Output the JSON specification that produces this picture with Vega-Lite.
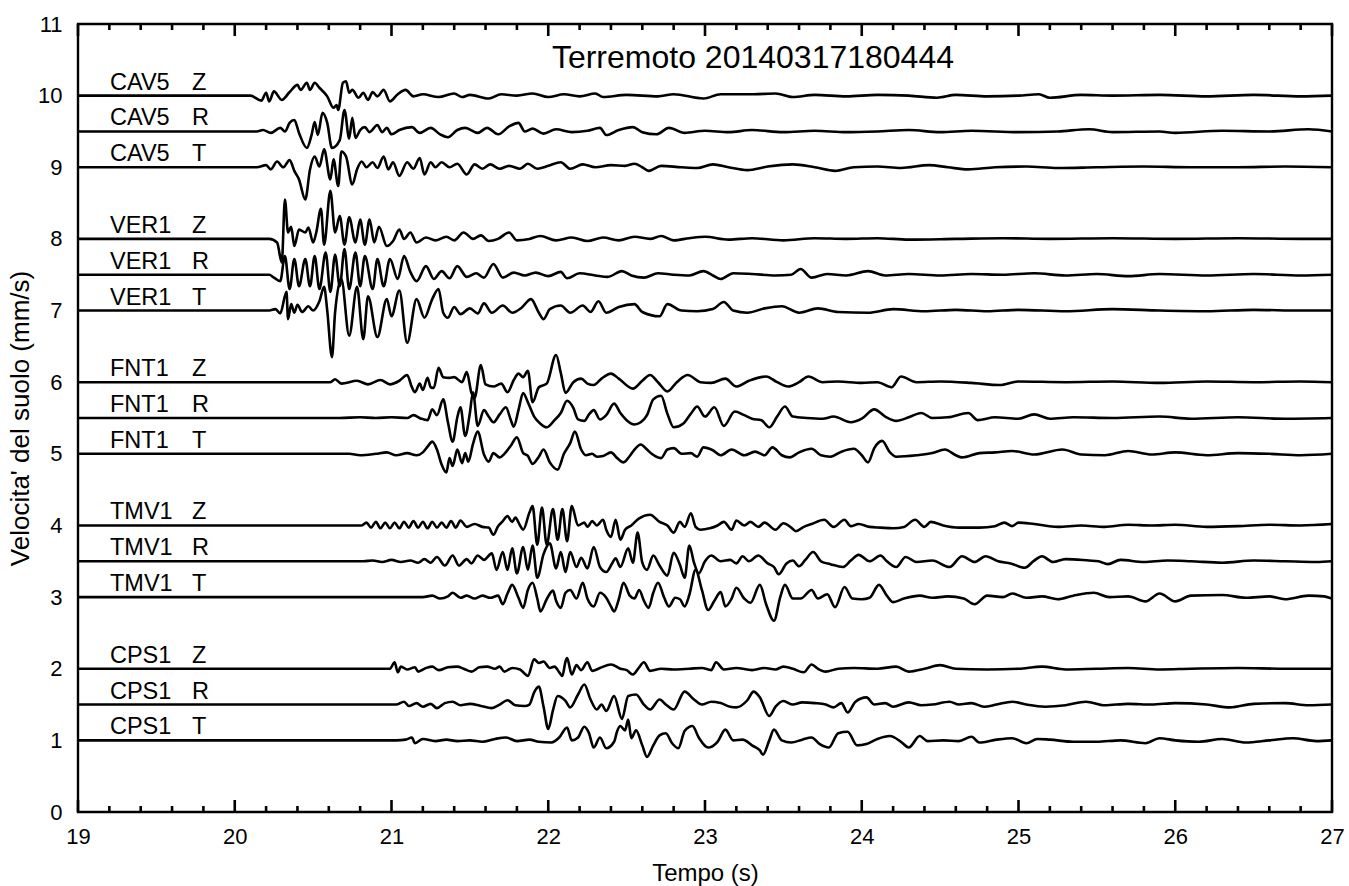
{
"$schema":"https://vega.github.io/schema/vega-lite/v6.json",
"width":1254,"height":788,
"autosize":{"type":"none"},
"padding":{"left":78,"top":24,"right":17,"bottom":74},
"background":"white",
"config":{"font":"Liberation Sans","view":{"stroke":"black","strokeWidth":2.4}},
"datasets":{
"major":[{"t":19},{"t":20},{"t":21},{"t":22},{"t":23},{"t":24},{"t":25},{"t":26},{"t":27}],
"minor":[{"t":19.2},{"t":19.4},{"t":19.6},{"t":19.8},{"t":20.2},{"t":20.4},{"t":20.6},{"t":20.8},{"t":21.2},{"t":21.4},{"t":21.6},{"t":21.8},{"t":22.2},{"t":22.4},{"t":22.6},{"t":22.8},{"t":23.2},{"t":23.4},{"t":23.6},{"t":23.8},{"t":24.2},{"t":24.4},{"t":24.6},{"t":24.8},{"t":25.2},{"t":25.4},{"t":25.6},{"t":25.8},{"t":26.2},{"t":26.4},{"t":26.6},{"t":26.8}],
"labs":[
{"k":"a","st":"CAV5","c":"Z","b":10},{"k":"b","st":"CAV5","c":"R","b":9.5},{"k":"c","st":"CAV5","c":"T","b":9},
{"k":"d","st":"VER1","c":"Z","b":8},{"k":"e","st":"VER1","c":"R","b":7.5},{"k":"f","st":"VER1","c":"T","b":7},
{"k":"g","st":"FNT1","c":"Z","b":6},{"k":"h","st":"FNT1","c":"R","b":5.5},{"k":"i","st":"FNT1","c":"T","b":5},
{"k":"j","st":"TMV1","c":"Z","b":4},{"k":"k","st":"TMV1","c":"R","b":3.5},{"k":"l","st":"TMV1","c":"T","b":3},
{"k":"m","st":"CPS1","c":"Z","b":2},{"k":"n","st":"CPS1","c":"R","b":1.5},{"k":"o","st":"CPS1","c":"T","b":1}],
"ttl":[{"txt":"Terremoto 20140317180444"}],
"w":[
{"k":"a","t":19,"v":10},{"k":"a","t":20.1,"v":10},{"k":"a","t":20.17,"v":9.93},{"k":"a","t":20.2,"v":10.04},{"k":"a","t":20.22,"v":9.92},{"k":"a","t":20.25,"v":10.06},{"k":"a","t":20.3,"v":9.94},{"k":"a","t":20.35,"v":10.05},{"k":"a","t":20.4,"v":10.15},{"k":"a","t":20.42,"v":10.08},{"k":"a","t":20.46,"v":10.18},{"k":"a","t":20.48,"v":10.08},{"k":"a","t":20.51,"v":10.18},{"k":"a","t":20.54,"v":10.11},{"k":"a","t":20.59,"v":9.99},{"k":"a","t":20.63,"v":9.83},{"k":"a","t":20.65,"v":9.87},{"k":"a","t":20.66,"v":9.8},{"k":"a","t":20.69,"v":10.18},{"k":"a","t":20.71,"v":10.2},{"k":"a","t":20.73,"v":10.04},{"k":"a","t":20.75,"v":10.08},{"k":"a","t":20.79,"v":9.97},{"k":"a","t":20.82,"v":10.04},{"k":"a","t":20.85,"v":9.94},{"k":"a","t":20.88,"v":10.05},{"k":"a","t":20.91,"v":9.99},{"k":"a","t":20.95,"v":10.08},{"k":"a","t":20.99,"v":9.92},{"k":"a","t":21.04,"v":10.02},{"k":"a","t":21.09,"v":10.08},{"k":"a","t":21.14,"v":9.99},{"k":"a","t":21.2,"v":10.02},{"k":"a","t":21.3,"v":9.98},{"k":"a","t":21.4,"v":10.03},{"k":"a","t":21.45,"v":9.98},{"k":"a","t":21.5,"v":10.01},{"k":"a","t":21.62,"v":9.96},{"k":"a","t":21.7,"v":10.02},{"k":"a","t":21.8,"v":10},{"k":"a","t":21.9,"v":10.03},{"k":"a","t":22,"v":9.98},{"k":"a","t":22.1,"v":10.02},{"k":"a","t":22.2,"v":9.99},{"k":"a","t":22.3,"v":10.03},{"k":"a","t":22.35,"v":9.98},{"k":"a","t":22.5,"v":10.01},{"k":"a","t":22.7,"v":9.99},{"k":"a","t":22.8,"v":10.02},{"k":"a","t":22.99,"v":9.96},{"k":"a","t":23.1,"v":10.02},{"k":"a","t":23.31,"v":10.02},{"k":"a","t":23.45,"v":10.03},{"k":"a","t":23.56,"v":9.98},{"k":"a","t":23.7,"v":10.01},{"k":"a","t":23.9,"v":9.99},{"k":"a","t":24.1,"v":10.01},{"k":"a","t":24.3,"v":10},{"k":"a","t":24.48,"v":9.97},{"k":"a","t":24.6,"v":10.01},{"k":"a","t":24.8,"v":9.99},{"k":"a","t":25,"v":10},{"k":"a","t":25.13,"v":10.02},{"k":"a","t":25.2,"v":9.97},{"k":"a","t":25.4,"v":10.01},{"k":"a","t":25.6,"v":10},{"k":"a","t":25.9,"v":10.01},{"k":"a","t":26.2,"v":9.99},{"k":"a","t":26.5,"v":10.01},{"k":"a","t":26.8,"v":9.99},{"k":"a","t":27,"v":10},
{"k":"b","t":19,"v":9.5},{"k":"b","t":20.14,"v":9.5},{"k":"b","t":20.18,"v":9.52},{"k":"b","t":20.23,"v":9.48},{"k":"b","t":20.29,"v":9.55},{"k":"b","t":20.32,"v":9.5},{"k":"b","t":20.35,"v":9.62},{"k":"b","t":20.38,"v":9.66},{"k":"b","t":20.41,"v":9.48},{"k":"b","t":20.46,"v":9.27},{"k":"b","t":20.49,"v":9.45},{"k":"b","t":20.51,"v":9.63},{"k":"b","t":20.53,"v":9.45},{"k":"b","t":20.56,"v":9.76},{"k":"b","t":20.59,"v":9.62},{"k":"b","t":20.62,"v":9.27},{"k":"b","t":20.67,"v":9.38},{"k":"b","t":20.7,"v":9.8},{"k":"b","t":20.73,"v":9.4},{"k":"b","t":20.75,"v":9.69},{"k":"b","t":20.77,"v":9.41},{"k":"b","t":20.8,"v":9.52},{"k":"b","t":20.83,"v":9.56},{"k":"b","t":20.86,"v":9.49},{"k":"b","t":20.91,"v":9.59},{"k":"b","t":20.94,"v":9.49},{"k":"b","t":20.97,"v":9.55},{"k":"b","t":21,"v":9.46},{"k":"b","t":21.05,"v":9.52},{"k":"b","t":21.13,"v":9.56},{"k":"b","t":21.18,"v":9.48},{"k":"b","t":21.25,"v":9.55},{"k":"b","t":21.31,"v":9.46},{"k":"b","t":21.36,"v":9.42},{"k":"b","t":21.42,"v":9.52},{"k":"b","t":21.47,"v":9.55},{"k":"b","t":21.55,"v":9.48},{"k":"b","t":21.61,"v":9.55},{"k":"b","t":21.68,"v":9.46},{"k":"b","t":21.75,"v":9.57},{"k":"b","t":21.81,"v":9.62},{"k":"b","t":21.85,"v":9.5},{"k":"b","t":21.9,"v":9.54},{"k":"b","t":21.97,"v":9.47},{"k":"b","t":22.05,"v":9.53},{"k":"b","t":22.15,"v":9.49},{"k":"b","t":22.25,"v":9.51},{"k":"b","t":22.33,"v":9.55},{"k":"b","t":22.37,"v":9.45},{"k":"b","t":22.45,"v":9.52},{"k":"b","t":22.54,"v":9.56},{"k":"b","t":22.6,"v":9.49},{"k":"b","t":22.69,"v":9.46},{"k":"b","t":22.77,"v":9.55},{"k":"b","t":22.87,"v":9.48},{"k":"b","t":23,"v":9.51},{"k":"b","t":23.15,"v":9.49},{"k":"b","t":23.3,"v":9.52},{"k":"b","t":23.5,"v":9.49},{"k":"b","t":23.7,"v":9.51},{"k":"b","t":23.9,"v":9.49},{"k":"b","t":24.1,"v":9.5},{"k":"b","t":24.3,"v":9.52},{"k":"b","t":24.5,"v":9.49},{"k":"b","t":24.7,"v":9.51},{"k":"b","t":25,"v":9.49},{"k":"b","t":25.25,"v":9.5},{"k":"b","t":25.45,"v":9.53},{"k":"b","t":25.6,"v":9.49},{"k":"b","t":25.9,"v":9.5},{"k":"b","t":26,"v":9.48},{"k":"b","t":26.3,"v":9.51},{"k":"b","t":26.6,"v":9.5},{"k":"b","t":26.85,"v":9.53},{"k":"b","t":27,"v":9.5},
{"k":"c","t":19,"v":9},{"k":"c","t":20.14,"v":9},{"k":"c","t":20.2,"v":9.03},{"k":"c","t":20.23,"v":8.97},{"k":"c","t":20.27,"v":9.08},{"k":"c","t":20.31,"v":9},{"k":"c","t":20.35,"v":9.1},{"k":"c","t":20.38,"v":8.95},{"k":"c","t":20.41,"v":8.83},{"k":"c","t":20.45,"v":8.55},{"k":"c","t":20.48,"v":8.97},{"k":"c","t":20.51,"v":9.15},{"k":"c","t":20.54,"v":9.01},{"k":"c","t":20.57,"v":9.25},{"k":"c","t":20.61,"v":8.83},{"k":"c","t":20.63,"v":9.11},{"k":"c","t":20.66,"v":8.74},{"k":"c","t":20.68,"v":9.22},{"k":"c","t":20.71,"v":9.15},{"k":"c","t":20.75,"v":8.76},{"k":"c","t":20.78,"v":8.97},{"k":"c","t":20.81,"v":9.08},{"k":"c","t":20.84,"v":9},{"k":"c","t":20.88,"v":9.07},{"k":"c","t":20.91,"v":8.99},{"k":"c","t":20.95,"v":9.15},{"k":"c","t":20.98,"v":8.97},{"k":"c","t":21.01,"v":9.07},{"k":"c","t":21.05,"v":8.88},{"k":"c","t":21.1,"v":9.07},{"k":"c","t":21.14,"v":8.98},{"k":"c","t":21.18,"v":9.13},{"k":"c","t":21.21,"v":8.9},{"k":"c","t":21.25,"v":9.07},{"k":"c","t":21.28,"v":9},{"k":"c","t":21.32,"v":9.07},{"k":"c","t":21.37,"v":9},{"k":"c","t":21.42,"v":9.05},{"k":"c","t":21.48,"v":8.9},{"k":"c","t":21.53,"v":9.04},{"k":"c","t":21.58,"v":8.98},{"k":"c","t":21.63,"v":9.04},{"k":"c","t":21.69,"v":8.98},{"k":"c","t":21.75,"v":9.02},{"k":"c","t":21.82,"v":8.98},{"k":"c","t":21.87,"v":9.05},{"k":"c","t":21.93,"v":8.98},{"k":"c","t":22,"v":9.02},{"k":"c","t":22.08,"v":9.07},{"k":"c","t":22.14,"v":8.98},{"k":"c","t":22.22,"v":9.04},{"k":"c","t":22.3,"v":9},{"k":"c","t":22.4,"v":9.03},{"k":"c","t":22.49,"v":9.02},{"k":"c","t":22.55,"v":9.05},{"k":"c","t":22.6,"v":9},{"k":"c","t":22.64,"v":8.95},{"k":"c","t":22.72,"v":9.02},{"k":"c","t":22.85,"v":9},{"k":"c","t":22.95,"v":8.99},{"k":"c","t":23.05,"v":9.04},{"k":"c","t":23.15,"v":9},{"k":"c","t":23.27,"v":8.96},{"k":"c","t":23.4,"v":9.01},{"k":"c","t":23.56,"v":9.04},{"k":"c","t":23.7,"v":9},{"k":"c","t":23.83,"v":8.95},{"k":"c","t":23.95,"v":9},{"k":"c","t":24.1,"v":9.01},{"k":"c","t":24.25,"v":8.99},{"k":"c","t":24.43,"v":9.03},{"k":"c","t":24.55,"v":9},{"k":"c","t":24.68,"v":8.97},{"k":"c","t":24.85,"v":9},{"k":"c","t":25.05,"v":9.01},{"k":"c","t":25.25,"v":8.99},{"k":"c","t":25.5,"v":9},{"k":"c","t":25.8,"v":9.01},{"k":"c","t":26.1,"v":9},{"k":"c","t":26.4,"v":9},{"k":"c","t":26.7,"v":9.01},{"k":"c","t":27,"v":9},
{"k":"d","t":19,"v":8},{"k":"d","t":20.22,"v":8},{"k":"d","t":20.27,"v":7.95},{"k":"d","t":20.3,"v":7.67},{"k":"d","t":20.32,"v":8.55},{"k":"d","t":20.34,"v":8.09},{"k":"d","t":20.36,"v":8.17},{"k":"d","t":20.38,"v":7.9},{"k":"d","t":20.41,"v":8.13},{"k":"d","t":20.45,"v":8.09},{"k":"d","t":20.47,"v":8.16},{"k":"d","t":20.5,"v":7.95},{"k":"d","t":20.52,"v":8.09},{"k":"d","t":20.55,"v":8.42},{"k":"d","t":20.57,"v":7.92},{"k":"d","t":20.61,"v":8.67},{"k":"d","t":20.64,"v":8.09},{"k":"d","t":20.67,"v":8.32},{"k":"d","t":20.7,"v":7.92},{"k":"d","t":20.73,"v":8.3},{"k":"d","t":20.77,"v":7.95},{"k":"d","t":20.8,"v":8.27},{"k":"d","t":20.83,"v":7.92},{"k":"d","t":20.86,"v":8.27},{"k":"d","t":20.89,"v":7.95},{"k":"d","t":20.92,"v":8.17},{"k":"d","t":20.97,"v":7.9},{"k":"d","t":21.01,"v":7.97},{"k":"d","t":21.05,"v":8.13},{"k":"d","t":21.08,"v":8},{"k":"d","t":21.12,"v":8.09},{"k":"d","t":21.16,"v":7.95},{"k":"d","t":21.22,"v":8.02},{"k":"d","t":21.28,"v":7.98},{"k":"d","t":21.35,"v":8.03},{"k":"d","t":21.4,"v":7.98},{"k":"d","t":21.46,"v":8.09},{"k":"d","t":21.52,"v":8},{"k":"d","t":21.57,"v":8.05},{"k":"d","t":21.62,"v":7.97},{"k":"d","t":21.68,"v":8},{"k":"d","t":21.75,"v":8.09},{"k":"d","t":21.8,"v":7.98},{"k":"d","t":21.88,"v":8},{"k":"d","t":21.95,"v":8.04},{"k":"d","t":22.05,"v":7.98},{"k":"d","t":22.15,"v":8.02},{"k":"d","t":22.25,"v":7.97},{"k":"d","t":22.35,"v":8.02},{"k":"d","t":22.45,"v":7.98},{"k":"d","t":22.55,"v":8.03},{"k":"d","t":22.65,"v":8},{"k":"d","t":22.72,"v":8.04},{"k":"d","t":22.8,"v":7.98},{"k":"d","t":22.9,"v":8.01},{"k":"d","t":23,"v":8.03},{"k":"d","t":23.15,"v":7.99},{"k":"d","t":23.3,"v":8.01},{"k":"d","t":23.5,"v":7.98},{"k":"d","t":23.7,"v":8.01},{"k":"d","t":23.9,"v":8},{"k":"d","t":24.1,"v":8.01},{"k":"d","t":24.3,"v":7.99},{"k":"d","t":24.6,"v":8},{"k":"d","t":24.9,"v":8.01},{"k":"d","t":25.2,"v":8},{"k":"d","t":25.6,"v":8.01},{"k":"d","t":26,"v":8},{"k":"d","t":26.4,"v":8.01},{"k":"d","t":26.8,"v":8},{"k":"d","t":27,"v":8},
{"k":"e","t":19,"v":7.5},{"k":"e","t":20.22,"v":7.5},{"k":"e","t":20.25,"v":7.46},{"k":"e","t":20.29,"v":7.41},{"k":"e","t":20.32,"v":7.76},{"k":"e","t":20.35,"v":7.3},{"k":"e","t":20.38,"v":7.72},{"k":"e","t":20.41,"v":7.34},{"k":"e","t":20.45,"v":7.72},{"k":"e","t":20.48,"v":7.34},{"k":"e","t":20.51,"v":7.76},{"k":"e","t":20.54,"v":7.3},{"k":"e","t":20.58,"v":7.81},{"k":"e","t":20.61,"v":7.26},{"k":"e","t":20.64,"v":7.78},{"k":"e","t":20.67,"v":7.34},{"k":"e","t":20.7,"v":7.86},{"k":"e","t":20.73,"v":7.3},{"k":"e","t":20.77,"v":7.81},{"k":"e","t":20.8,"v":7.34},{"k":"e","t":20.83,"v":7.76},{"k":"e","t":20.88,"v":7.3},{"k":"e","t":20.91,"v":7.72},{"k":"e","t":20.95,"v":7.34},{"k":"e","t":20.99,"v":7.72},{"k":"e","t":21.04,"v":7.44},{"k":"e","t":21.08,"v":7.76},{"k":"e","t":21.12,"v":7.54},{"k":"e","t":21.16,"v":7.41},{"k":"e","t":21.22,"v":7.62},{"k":"e","t":21.27,"v":7.44},{"k":"e","t":21.32,"v":7.55},{"k":"e","t":21.37,"v":7.45},{"k":"e","t":21.42,"v":7.62},{"k":"e","t":21.48,"v":7.47},{"k":"e","t":21.54,"v":7.52},{"k":"e","t":21.59,"v":7.46},{"k":"e","t":21.65,"v":7.65},{"k":"e","t":21.71,"v":7.46},{"k":"e","t":21.78,"v":7.53},{"k":"e","t":21.85,"v":7.49},{"k":"e","t":21.92,"v":7.53},{"k":"e","t":22,"v":7.48},{"k":"e","t":22.08,"v":7.54},{"k":"e","t":22.12,"v":7.45},{"k":"e","t":22.2,"v":7.52},{"k":"e","t":22.3,"v":7.49},{"k":"e","t":22.38,"v":7.47},{"k":"e","t":22.47,"v":7.55},{"k":"e","t":22.53,"v":7.49},{"k":"e","t":22.61,"v":7.46},{"k":"e","t":22.7,"v":7.52},{"k":"e","t":22.8,"v":7.5},{"k":"e","t":22.9,"v":7.49},{"k":"e","t":22.99,"v":7.55},{"k":"e","t":23.05,"v":7.49},{"k":"e","t":23.1,"v":7.44},{"k":"e","t":23.18,"v":7.52},{"k":"e","t":23.3,"v":7.51},{"k":"e","t":23.45,"v":7.49},{"k":"e","t":23.55,"v":7.5},{"k":"e","t":23.61,"v":7.58},{"k":"e","t":23.68,"v":7.46},{"k":"e","t":23.78,"v":7.51},{"k":"e","t":23.9,"v":7.49},{"k":"e","t":24.04,"v":7.55},{"k":"e","t":24.15,"v":7.49},{"k":"e","t":24.3,"v":7.51},{"k":"e","t":24.5,"v":7.49},{"k":"e","t":24.7,"v":7.51},{"k":"e","t":24.9,"v":7.5},{"k":"e","t":25.1,"v":7.52},{"k":"e","t":25.3,"v":7.49},{"k":"e","t":25.5,"v":7.51},{"k":"e","t":25.7,"v":7.48},{"k":"e","t":25.9,"v":7.51},{"k":"e","t":26.2,"v":7.49},{"k":"e","t":26.5,"v":7.51},{"k":"e","t":26.8,"v":7.49},{"k":"e","t":27,"v":7.5},
{"k":"f","t":19,"v":7},{"k":"f","t":20.22,"v":7},{"k":"f","t":20.26,"v":7.02},{"k":"f","t":20.29,"v":6.96},{"k":"f","t":20.33,"v":7.26},{"k":"f","t":20.34,"v":6.88},{"k":"f","t":20.36,"v":7.09},{"k":"f","t":20.38,"v":6.97},{"k":"f","t":20.4,"v":7.08},{"k":"f","t":20.43,"v":6.98},{"k":"f","t":20.47,"v":7.06},{"k":"f","t":20.5,"v":7},{"k":"f","t":20.54,"v":7.13},{"k":"f","t":20.57,"v":7.33},{"k":"f","t":20.59,"v":7},{"k":"f","t":20.62,"v":6.35},{"k":"f","t":20.64,"v":6.97},{"k":"f","t":20.68,"v":7.44},{"k":"f","t":20.73,"v":6.65},{"k":"f","t":20.78,"v":7.33},{"k":"f","t":20.82,"v":6.6},{"k":"f","t":20.85,"v":7.2},{"k":"f","t":20.91,"v":6.63},{"k":"f","t":20.97,"v":7.16},{"k":"f","t":21,"v":6.92},{"k":"f","t":21.05,"v":7.28},{"k":"f","t":21.1,"v":6.55},{"k":"f","t":21.16,"v":7.16},{"k":"f","t":21.21,"v":6.9},{"k":"f","t":21.26,"v":7.16},{"k":"f","t":21.3,"v":7.3},{"k":"f","t":21.33,"v":6.97},{"k":"f","t":21.36,"v":6.9},{"k":"f","t":21.4,"v":7.05},{"k":"f","t":21.44,"v":6.95},{"k":"f","t":21.5,"v":7.03},{"k":"f","t":21.55,"v":6.96},{"k":"f","t":21.59,"v":7.1},{"k":"f","t":21.64,"v":6.97},{"k":"f","t":21.71,"v":7.07},{"k":"f","t":21.77,"v":6.97},{"k":"f","t":21.83,"v":7.04},{"k":"f","t":21.89,"v":7.16},{"k":"f","t":21.94,"v":6.97},{"k":"f","t":21.97,"v":6.88},{"k":"f","t":22.01,"v":7.02},{"k":"f","t":22.08,"v":7.07},{"k":"f","t":22.14,"v":6.97},{"k":"f","t":22.22,"v":7.07},{"k":"f","t":22.27,"v":6.98},{"k":"f","t":22.32,"v":7.13},{"k":"f","t":22.37,"v":6.97},{"k":"f","t":22.45,"v":7.05},{"k":"f","t":22.55,"v":7.09},{"k":"f","t":22.6,"v":6.98},{"k":"f","t":22.71,"v":6.92},{"k":"f","t":22.76,"v":7.09},{"k":"f","t":22.85,"v":7},{"k":"f","t":22.95,"v":6.99},{"k":"f","t":23.05,"v":7.02},{"k":"f","t":23.12,"v":7.12},{"k":"f","t":23.18,"v":7},{"k":"f","t":23.27,"v":6.97},{"k":"f","t":23.38,"v":7.03},{"k":"f","t":23.49,"v":7.06},{"k":"f","t":23.6,"v":6.97},{"k":"f","t":23.72,"v":7.03},{"k":"f","t":23.85,"v":6.98},{"k":"f","t":24.04,"v":6.97},{"k":"f","t":24.2,"v":7.02},{"k":"f","t":24.4,"v":6.99},{"k":"f","t":24.6,"v":7.01},{"k":"f","t":24.8,"v":6.99},{"k":"f","t":25,"v":7.01},{"k":"f","t":25.3,"v":6.99},{"k":"f","t":25.6,"v":7.02},{"k":"f","t":25.9,"v":7},{"k":"f","t":26.2,"v":6.99},{"k":"f","t":26.5,"v":7.01},{"k":"f","t":26.8,"v":7},{"k":"f","t":27,"v":7},
{"k":"g","t":19,"v":6},{"k":"g","t":20.61,"v":6},{"k":"g","t":20.64,"v":6.04},{"k":"g","t":20.68,"v":5.98},{"k":"g","t":20.78,"v":6.02},{"k":"g","t":20.85,"v":5.97},{"k":"g","t":20.93,"v":6.03},{"k":"g","t":20.99,"v":5.97},{"k":"g","t":21.05,"v":6.02},{"k":"g","t":21.1,"v":6.1},{"k":"g","t":21.13,"v":5.93},{"k":"g","t":21.15,"v":5.86},{"k":"g","t":21.18,"v":5.98},{"k":"g","t":21.2,"v":5.89},{"k":"g","t":21.23,"v":6.06},{"k":"g","t":21.25,"v":5.93},{"k":"g","t":21.27,"v":5.92},{"k":"g","t":21.3,"v":6.2},{"k":"g","t":21.33,"v":6.07},{"k":"g","t":21.37,"v":6.06},{"k":"g","t":21.4,"v":6.07},{"k":"g","t":21.45,"v":6},{"k":"g","t":21.48,"v":6.14},{"k":"g","t":21.51,"v":5.85},{"k":"g","t":21.53,"v":5.78},{"k":"g","t":21.57,"v":6.24},{"k":"g","t":21.6,"v":5.97},{"k":"g","t":21.65,"v":5.94},{"k":"g","t":21.7,"v":5.98},{"k":"g","t":21.74,"v":5.86},{"k":"g","t":21.78,"v":6.03},{"k":"g","t":21.81,"v":6.12},{"k":"g","t":21.84,"v":6.07},{"k":"g","t":21.87,"v":6.16},{"k":"g","t":21.9,"v":5.72},{"k":"g","t":21.94,"v":5.93},{"k":"g","t":21.99,"v":5.98},{"k":"g","t":22.05,"v":6.38},{"k":"g","t":22.08,"v":6.13},{"k":"g","t":22.11,"v":5.85},{"k":"g","t":22.16,"v":6},{"k":"g","t":22.21,"v":6.05},{"k":"g","t":22.25,"v":5.98},{"k":"g","t":22.29,"v":5.96},{"k":"g","t":22.34,"v":6.05},{"k":"g","t":22.4,"v":6.12},{"k":"g","t":22.45,"v":6.05},{"k":"g","t":22.54,"v":5.91},{"k":"g","t":22.6,"v":6.02},{"k":"g","t":22.65,"v":6.1},{"k":"g","t":22.7,"v":6},{"k":"g","t":22.76,"v":5.87},{"k":"g","t":22.82,"v":6},{"k":"g","t":22.89,"v":6.1},{"k":"g","t":22.97,"v":6},{"k":"g","t":23.04,"v":5.99},{"k":"g","t":23.13,"v":6.05},{"k":"g","t":23.2,"v":5.94},{"k":"g","t":23.28,"v":6.02},{"k":"g","t":23.39,"v":6.08},{"k":"g","t":23.46,"v":6},{"k":"g","t":23.53,"v":5.94},{"k":"g","t":23.6,"v":6},{"k":"g","t":23.66,"v":6.08},{"k":"g","t":23.75,"v":6},{"k":"g","t":23.85,"v":6.01},{"k":"g","t":24,"v":5.99},{"k":"g","t":24.1,"v":6},{"k":"g","t":24.19,"v":5.93},{"k":"g","t":24.25,"v":6.08},{"k":"g","t":24.35,"v":6},{"k":"g","t":24.5,"v":6.01},{"k":"g","t":24.7,"v":5.99},{"k":"g","t":24.88,"v":5.96},{"k":"g","t":25,"v":6.01},{"k":"g","t":25.3,"v":6},{"k":"g","t":25.6,"v":6.01},{"k":"g","t":25.9,"v":5.99},{"k":"g","t":26.2,"v":6.01},{"k":"g","t":26.5,"v":6},{"k":"g","t":26.8,"v":6.01},{"k":"g","t":27,"v":6},
{"k":"h","t":19,"v":5.5},{"k":"h","t":20.67,"v":5.5},{"k":"h","t":20.8,"v":5.51},{"k":"h","t":20.9,"v":5.5},{"k":"h","t":21,"v":5.51},{"k":"h","t":21.1,"v":5.5},{"k":"h","t":21.14,"v":5.54},{"k":"h","t":21.19,"v":5.49},{"k":"h","t":21.23,"v":5.47},{"k":"h","t":21.26,"v":5.62},{"k":"h","t":21.29,"v":5.54},{"k":"h","t":21.33,"v":5.76},{"k":"h","t":21.36,"v":5.44},{"k":"h","t":21.39,"v":5.17},{"k":"h","t":21.42,"v":5.51},{"k":"h","t":21.44,"v":5.65},{"k":"h","t":21.47,"v":5.25},{"k":"h","t":21.5,"v":5.57},{"k":"h","t":21.52,"v":5.86},{"k":"h","t":21.55,"v":5.39},{"k":"h","t":21.59,"v":5.61},{"k":"h","t":21.62,"v":5.52},{"k":"h","t":21.65,"v":5.44},{"k":"h","t":21.69,"v":5.55},{"k":"h","t":21.73,"v":5.65},{"k":"h","t":21.76,"v":5.48},{"k":"h","t":21.78,"v":5.38},{"k":"h","t":21.81,"v":5.61},{"k":"h","t":21.84,"v":5.85},{"k":"h","t":21.87,"v":5.72},{"k":"h","t":21.91,"v":5.52},{"k":"h","t":21.95,"v":5.42},{"k":"h","t":21.99,"v":5.37},{"k":"h","t":22.04,"v":5.47},{"k":"h","t":22.08,"v":5.57},{"k":"h","t":22.12,"v":5.74},{"k":"h","t":22.16,"v":5.64},{"k":"h","t":22.19,"v":5.48},{"k":"h","t":22.23,"v":5.46},{"k":"h","t":22.26,"v":5.55},{"k":"h","t":22.29,"v":5.61},{"k":"h","t":22.33,"v":5.48},{"k":"h","t":22.37,"v":5.54},{"k":"h","t":22.42,"v":5.7},{"k":"h","t":22.46,"v":5.57},{"k":"h","t":22.5,"v":5.47},{"k":"h","t":22.55,"v":5.41},{"k":"h","t":22.59,"v":5.44},{"k":"h","t":22.63,"v":5.54},{"k":"h","t":22.67,"v":5.76},{"k":"h","t":22.72,"v":5.81},{"k":"h","t":22.76,"v":5.56},{"k":"h","t":22.8,"v":5.37},{"k":"h","t":22.86,"v":5.42},{"k":"h","t":22.91,"v":5.56},{"k":"h","t":22.95,"v":5.66},{"k":"h","t":23,"v":5.52},{"k":"h","t":23.06,"v":5.65},{"k":"h","t":23.12,"v":5.39},{"k":"h","t":23.19,"v":5.59},{"k":"h","t":23.25,"v":5.54},{"k":"h","t":23.3,"v":5.49},{"k":"h","t":23.36,"v":5.47},{"k":"h","t":23.41,"v":5.37},{"k":"h","t":23.46,"v":5.52},{"k":"h","t":23.51,"v":5.66},{"k":"h","t":23.56,"v":5.52},{"k":"h","t":23.65,"v":5.5},{"k":"h","t":23.75,"v":5.49},{"k":"h","t":23.82,"v":5.52},{"k":"h","t":23.93,"v":5.44},{"k":"h","t":24,"v":5.49},{"k":"h","t":24.08,"v":5.62},{"k":"h","t":24.15,"v":5.52},{"k":"h","t":24.22,"v":5.46},{"k":"h","t":24.3,"v":5.51},{"k":"h","t":24.38,"v":5.57},{"k":"h","t":24.45,"v":5.5},{"k":"h","t":24.55,"v":5.51},{"k":"h","t":24.68,"v":5.57},{"k":"h","t":24.74,"v":5.47},{"k":"h","t":24.85,"v":5.51},{"k":"h","t":25,"v":5.49},{"k":"h","t":25.1,"v":5.55},{"k":"h","t":25.2,"v":5.49},{"k":"h","t":25.35,"v":5.51},{"k":"h","t":25.6,"v":5.5},{"k":"h","t":25.9,"v":5.52},{"k":"h","t":26.1,"v":5.49},{"k":"h","t":26.4,"v":5.51},{"k":"h","t":26.7,"v":5.49},{"k":"h","t":27,"v":5.5},
{"k":"i","t":19,"v":5},{"k":"i","t":20.73,"v":5},{"k":"i","t":20.8,"v":4.98},{"k":"i","t":20.9,"v":5},{"k":"i","t":20.97,"v":5.02},{"k":"i","t":21.03,"v":4.98},{"k":"i","t":21.1,"v":5.01},{"k":"i","t":21.16,"v":4.98},{"k":"i","t":21.2,"v":5.02},{"k":"i","t":21.23,"v":5.1},{"k":"i","t":21.26,"v":5.17},{"k":"i","t":21.29,"v":5.06},{"k":"i","t":21.32,"v":4.85},{"k":"i","t":21.35,"v":4.74},{"k":"i","t":21.37,"v":4.94},{"k":"i","t":21.39,"v":4.83},{"k":"i","t":21.42,"v":5.06},{"k":"i","t":21.45,"v":4.87},{"k":"i","t":21.47,"v":5.01},{"k":"i","t":21.49,"v":4.89},{"k":"i","t":21.52,"v":5.14},{"k":"i","t":21.55,"v":5.31},{"k":"i","t":21.59,"v":4.99},{"k":"i","t":21.62,"v":4.89},{"k":"i","t":21.65,"v":5.01},{"k":"i","t":21.69,"v":4.95},{"k":"i","t":21.72,"v":5},{"k":"i","t":21.76,"v":5.11},{"k":"i","t":21.8,"v":5.23},{"k":"i","t":21.84,"v":5.01},{"k":"i","t":21.87,"v":4.97},{"k":"i","t":21.9,"v":4.86},{"k":"i","t":21.94,"v":4.96},{"k":"i","t":21.97,"v":5.06},{"k":"i","t":22.01,"v":4.88},{"k":"i","t":22.06,"v":4.78},{"k":"i","t":22.1,"v":5},{"k":"i","t":22.14,"v":5.15},{"k":"i","t":22.17,"v":5.31},{"k":"i","t":22.21,"v":5.06},{"k":"i","t":22.24,"v":4.98},{"k":"i","t":22.28,"v":5},{"k":"i","t":22.31,"v":4.96},{"k":"i","t":22.35,"v":4.97},{"k":"i","t":22.4,"v":5.02},{"k":"i","t":22.44,"v":4.94},{"k":"i","t":22.48,"v":4.88},{"k":"i","t":22.52,"v":4.97},{"k":"i","t":22.55,"v":5.06},{"k":"i","t":22.59,"v":5.13},{"k":"i","t":22.63,"v":5.06},{"k":"i","t":22.66,"v":5},{"k":"i","t":22.72,"v":4.94},{"k":"i","t":22.76,"v":5.06},{"k":"i","t":22.8,"v":5.08},{"k":"i","t":22.85,"v":5},{"k":"i","t":22.91,"v":5.01},{"k":"i","t":22.95,"v":4.96},{"k":"i","t":22.99,"v":5.09},{"k":"i","t":23.05,"v":5.05},{"k":"i","t":23.1,"v":4.98},{"k":"i","t":23.17,"v":5.06},{"k":"i","t":23.25,"v":4.98},{"k":"i","t":23.32,"v":5.03},{"k":"i","t":23.38,"v":4.98},{"k":"i","t":23.43,"v":5.09},{"k":"i","t":23.49,"v":4.98},{"k":"i","t":23.54,"v":4.95},{"k":"i","t":23.6,"v":5.02},{"k":"i","t":23.68,"v":5.07},{"k":"i","t":23.74,"v":4.98},{"k":"i","t":23.8,"v":4.96},{"k":"i","t":23.87,"v":5.03},{"k":"i","t":23.95,"v":5.07},{"k":"i","t":24,"v":4.98},{"k":"i","t":24.04,"v":4.88},{"k":"i","t":24.08,"v":5.08},{"k":"i","t":24.13,"v":5.18},{"k":"i","t":24.18,"v":5.02},{"k":"i","t":24.22,"v":4.96},{"k":"i","t":24.35,"v":4.98},{"k":"i","t":24.45,"v":5.01},{"k":"i","t":24.53,"v":5.06},{"k":"i","t":24.6,"v":4.98},{"k":"i","t":24.64,"v":4.95},{"k":"i","t":24.75,"v":5.01},{"k":"i","t":24.85,"v":5.02},{"k":"i","t":24.96,"v":5.04},{"k":"i","t":25.1,"v":4.99},{"k":"i","t":25.28,"v":5.06},{"k":"i","t":25.4,"v":4.99},{"k":"i","t":25.55,"v":4.98},{"k":"i","t":25.7,"v":5.04},{"k":"i","t":25.85,"v":4.99},{"k":"i","t":26,"v":5.02},{"k":"i","t":26.2,"v":4.98},{"k":"i","t":26.4,"v":5.01},{"k":"i","t":26.6,"v":5},{"k":"i","t":26.8,"v":4.98},{"k":"i","t":27,"v":5},
{"k":"j","t":19,"v":4},{"k":"j","t":20.81,"v":4},{"k":"j","t":20.84,"v":4.04},{"k":"j","t":20.87,"v":3.97},{"k":"j","t":20.9,"v":4.05},{"k":"j","t":20.93,"v":3.96},{"k":"j","t":20.96,"v":4.04},{"k":"j","t":20.99,"v":3.96},{"k":"j","t":21.02,"v":4.04},{"k":"j","t":21.05,"v":3.96},{"k":"j","t":21.08,"v":4.05},{"k":"j","t":21.11,"v":3.97},{"k":"j","t":21.14,"v":4.06},{"k":"j","t":21.17,"v":3.97},{"k":"j","t":21.2,"v":4.05},{"k":"j","t":21.23,"v":3.96},{"k":"j","t":21.26,"v":4.05},{"k":"j","t":21.29,"v":3.97},{"k":"j","t":21.32,"v":4.04},{"k":"j","t":21.35,"v":3.97},{"k":"j","t":21.38,"v":4.06},{"k":"j","t":21.41,"v":3.97},{"k":"j","t":21.44,"v":4.07},{"k":"j","t":21.48,"v":3.98},{"k":"j","t":21.53,"v":4.02},{"k":"j","t":21.58,"v":3.98},{"k":"j","t":21.62,"v":3.97},{"k":"j","t":21.65,"v":3.87},{"k":"j","t":21.68,"v":3.99},{"k":"j","t":21.71,"v":4.06},{"k":"j","t":21.74,"v":4.13},{"k":"j","t":21.77,"v":4.05},{"k":"j","t":21.79,"v":4.11},{"k":"j","t":21.82,"v":4},{"k":"j","t":21.84,"v":3.94},{"k":"j","t":21.88,"v":4.18},{"k":"j","t":21.9,"v":4.27},{"k":"j","t":21.93,"v":3.73},{"k":"j","t":21.96,"v":4.25},{"k":"j","t":21.99,"v":3.73},{"k":"j","t":22.03,"v":4.23},{"k":"j","t":22.06,"v":3.8},{"k":"j","t":22.09,"v":4.23},{"k":"j","t":22.12,"v":3.78},{"k":"j","t":22.15,"v":4.27},{"k":"j","t":22.19,"v":4},{"k":"j","t":22.23,"v":4.04},{"k":"j","t":22.25,"v":3.98},{"k":"j","t":22.28,"v":4.06},{"k":"j","t":22.31,"v":4},{"k":"j","t":22.35,"v":4.08},{"k":"j","t":22.37,"v":3.94},{"k":"j","t":22.4,"v":3.84},{"k":"j","t":22.43,"v":4.08},{"k":"j","t":22.46,"v":3.8},{"k":"j","t":22.49,"v":3.94},{"k":"j","t":22.53,"v":4},{"k":"j","t":22.58,"v":4.1},{"k":"j","t":22.65,"v":4.15},{"k":"j","t":22.71,"v":4.05},{"k":"j","t":22.76,"v":4},{"k":"j","t":22.8,"v":3.9},{"k":"j","t":22.84,"v":4.05},{"k":"j","t":22.87,"v":3.98},{"k":"j","t":22.91,"v":4.17},{"k":"j","t":22.94,"v":3.98},{"k":"j","t":22.97,"v":3.94},{"k":"j","t":23.03,"v":3.96},{"k":"j","t":23.08,"v":4},{"k":"j","t":23.12,"v":4.05},{"k":"j","t":23.17,"v":3.94},{"k":"j","t":23.2,"v":4.07},{"k":"j","t":23.25,"v":4},{"k":"j","t":23.29,"v":4.05},{"k":"j","t":23.34,"v":3.98},{"k":"j","t":23.38,"v":4.04},{"k":"j","t":23.45,"v":3.94},{"k":"j","t":23.5,"v":4.03},{"k":"j","t":23.55,"v":3.97},{"k":"j","t":23.58,"v":3.92},{"k":"j","t":23.63,"v":3.98},{"k":"j","t":23.68,"v":4.02},{"k":"j","t":23.76,"v":4.08},{"k":"j","t":23.82,"v":3.98},{"k":"j","t":23.89,"v":4.08},{"k":"j","t":23.93,"v":3.99},{"k":"j","t":23.98,"v":4.02},{"k":"j","t":24.05,"v":3.98},{"k":"j","t":24.12,"v":3.97},{"k":"j","t":24.2,"v":3.96},{"k":"j","t":24.27,"v":3.98},{"k":"j","t":24.34,"v":4.08},{"k":"j","t":24.4,"v":3.98},{"k":"j","t":24.44,"v":4.05},{"k":"j","t":24.52,"v":4},{"k":"j","t":24.62,"v":3.97},{"k":"j","t":24.75,"v":3.97},{"k":"j","t":24.85,"v":3.99},{"k":"j","t":24.91,"v":4.04},{"k":"j","t":24.96,"v":3.99},{"k":"j","t":25,"v":4.04},{"k":"j","t":25.1,"v":4.02},{"k":"j","t":25.25,"v":3.98},{"k":"j","t":25.4,"v":4},{"k":"j","t":25.55,"v":3.98},{"k":"j","t":25.7,"v":4.01},{"k":"j","t":25.85,"v":4},{"k":"j","t":26,"v":4.01},{"k":"j","t":26.2,"v":3.98},{"k":"j","t":26.4,"v":3.99},{"k":"j","t":26.6,"v":4.01},{"k":"j","t":26.8,"v":4},{"k":"j","t":27,"v":4.02},
{"k":"k","t":19,"v":3.5},{"k":"k","t":20.82,"v":3.5},{"k":"k","t":20.88,"v":3.51},{"k":"k","t":20.94,"v":3.49},{"k":"k","t":21,"v":3.52},{"k":"k","t":21.06,"v":3.49},{"k":"k","t":21.12,"v":3.51},{"k":"k","t":21.17,"v":3.48},{"k":"k","t":21.21,"v":3.53},{"k":"k","t":21.25,"v":3.48},{"k":"k","t":21.29,"v":3.56},{"k":"k","t":21.34,"v":3.44},{"k":"k","t":21.39,"v":3.58},{"k":"k","t":21.43,"v":3.44},{"k":"k","t":21.48,"v":3.53},{"k":"k","t":21.51,"v":3.47},{"k":"k","t":21.55,"v":3.58},{"k":"k","t":21.59,"v":3.52},{"k":"k","t":21.64,"v":3.61},{"k":"k","t":21.67,"v":3.38},{"k":"k","t":21.71,"v":3.63},{"k":"k","t":21.74,"v":3.38},{"k":"k","t":21.77,"v":3.68},{"k":"k","t":21.8,"v":3.33},{"k":"k","t":21.84,"v":3.7},{"k":"k","t":21.87,"v":3.38},{"k":"k","t":21.9,"v":3.72},{"k":"k","t":21.93,"v":3.27},{"k":"k","t":21.97,"v":3.6},{"k":"k","t":22.01,"v":3.75},{"k":"k","t":22.05,"v":3.4},{"k":"k","t":22.08,"v":3.63},{"k":"k","t":22.11,"v":3.35},{"k":"k","t":22.14,"v":3.63},{"k":"k","t":22.18,"v":3.42},{"k":"k","t":22.21,"v":3.55},{"k":"k","t":22.25,"v":3.4},{"k":"k","t":22.29,"v":3.7},{"k":"k","t":22.33,"v":3.42},{"k":"k","t":22.37,"v":3.35},{"k":"k","t":22.41,"v":3.48},{"k":"k","t":22.43,"v":3.54},{"k":"k","t":22.46,"v":3.42},{"k":"k","t":22.51,"v":3.68},{"k":"k","t":22.54,"v":3.48},{"k":"k","t":22.57,"v":3.9},{"k":"k","t":22.6,"v":3.48},{"k":"k","t":22.63,"v":3.38},{"k":"k","t":22.67,"v":3.58},{"k":"k","t":22.71,"v":3.44},{"k":"k","t":22.76,"v":3.3},{"k":"k","t":22.8,"v":3.62},{"k":"k","t":22.84,"v":3.45},{"k":"k","t":22.87,"v":3.27},{"k":"k","t":22.9,"v":3.72},{"k":"k","t":22.93,"v":3.48},{"k":"k","t":22.96,"v":3.33},{"k":"k","t":23,"v":3.5},{"k":"k","t":23.04,"v":3.58},{"k":"k","t":23.1,"v":3.5},{"k":"k","t":23.16,"v":3.52},{"k":"k","t":23.2,"v":3.47},{"k":"k","t":23.24,"v":3.57},{"k":"k","t":23.28,"v":3.5},{"k":"k","t":23.34,"v":3.58},{"k":"k","t":23.4,"v":3.47},{"k":"k","t":23.44,"v":3.42},{"k":"k","t":23.47,"v":3.32},{"k":"k","t":23.52,"v":3.47},{"k":"k","t":23.56,"v":3.51},{"k":"k","t":23.6,"v":3.43},{"k":"k","t":23.64,"v":3.52},{"k":"k","t":23.69,"v":3.63},{"k":"k","t":23.74,"v":3.5},{"k":"k","t":23.8,"v":3.46},{"k":"k","t":23.88,"v":3.42},{"k":"k","t":23.93,"v":3.51},{"k":"k","t":23.98,"v":3.59},{"k":"k","t":24.05,"v":3.5},{"k":"k","t":24.12,"v":3.58},{"k":"k","t":24.16,"v":3.5},{"k":"k","t":24.22,"v":3.42},{"k":"k","t":24.28,"v":3.56},{"k":"k","t":24.35,"v":3.49},{"k":"k","t":24.45,"v":3.51},{"k":"k","t":24.56,"v":3.42},{"k":"k","t":24.64,"v":3.57},{"k":"k","t":24.72,"v":3.49},{"k":"k","t":24.79,"v":3.57},{"k":"k","t":24.87,"v":3.5},{"k":"k","t":24.95,"v":3.47},{"k":"k","t":25.04,"v":3.41},{"k":"k","t":25.1,"v":3.51},{"k":"k","t":25.15,"v":3.57},{"k":"k","t":25.22,"v":3.49},{"k":"k","t":25.3,"v":3.53},{"k":"k","t":25.45,"v":3.51},{"k":"k","t":25.51,"v":3.5},{"k":"k","t":25.57,"v":3.46},{"k":"k","t":25.65,"v":3.52},{"k":"k","t":25.8,"v":3.49},{"k":"k","t":25.95,"v":3.51},{"k":"k","t":26.1,"v":3.5},{"k":"k","t":26.3,"v":3.48},{"k":"k","t":26.5,"v":3.51},{"k":"k","t":26.7,"v":3.5},{"k":"k","t":26.9,"v":3.49},{"k":"k","t":27,"v":3.5},
{"k":"l","t":19,"v":3},{"k":"l","t":21.12,"v":3},{"k":"l","t":21.2,"v":3},{"k":"l","t":21.26,"v":3.02},{"k":"l","t":21.31,"v":2.98},{"k":"l","t":21.36,"v":3.01},{"k":"l","t":21.39,"v":3.06},{"k":"l","t":21.44,"v":2.99},{"k":"l","t":21.48,"v":3.02},{"k":"l","t":21.53,"v":2.98},{"k":"l","t":21.58,"v":3.02},{"k":"l","t":21.63,"v":2.99},{"k":"l","t":21.68,"v":3.02},{"k":"l","t":21.71,"v":2.9},{"k":"l","t":21.74,"v":3.05},{"k":"l","t":21.77,"v":3.17},{"k":"l","t":21.81,"v":2.99},{"k":"l","t":21.84,"v":2.85},{"k":"l","t":21.87,"v":3.1},{"k":"l","t":21.9,"v":3.2},{"k":"l","t":21.93,"v":2.98},{"k":"l","t":21.95,"v":2.8},{"k":"l","t":21.99,"v":2.97},{"k":"l","t":22.03,"v":3.09},{"k":"l","t":22.05,"v":2.95},{"k":"l","t":22.08,"v":2.85},{"k":"l","t":22.11,"v":3.06},{"k":"l","t":22.14,"v":3.1},{"k":"l","t":22.18,"v":2.98},{"k":"l","t":22.22,"v":3.2},{"k":"l","t":22.25,"v":2.98},{"k":"l","t":22.29,"v":2.87},{"k":"l","t":22.33,"v":3.06},{"k":"l","t":22.37,"v":2.99},{"k":"l","t":22.4,"v":2.87},{"k":"l","t":22.42,"v":2.8},{"k":"l","t":22.45,"v":2.97},{"k":"l","t":22.48,"v":3.2},{"k":"l","t":22.52,"v":3.02},{"k":"l","t":22.55,"v":2.98},{"k":"l","t":22.58,"v":3.1},{"k":"l","t":22.61,"v":2.95},{"k":"l","t":22.64,"v":2.85},{"k":"l","t":22.67,"v":3.06},{"k":"l","t":22.7,"v":3.2},{"k":"l","t":22.74,"v":2.99},{"k":"l","t":22.77,"v":2.87},{"k":"l","t":22.81,"v":2.99},{"k":"l","t":22.84,"v":2.97},{"k":"l","t":22.87,"v":2.87},{"k":"l","t":22.9,"v":3.03},{"k":"l","t":22.94,"v":3.38},{"k":"l","t":22.98,"v":3.1},{"k":"l","t":23.02,"v":2.82},{"k":"l","t":23.06,"v":2.95},{"k":"l","t":23.1,"v":3.07},{"k":"l","t":23.13,"v":2.87},{"k":"l","t":23.17,"v":2.98},{"k":"l","t":23.2,"v":3.13},{"k":"l","t":23.25,"v":2.98},{"k":"l","t":23.29,"v":2.92},{"k":"l","t":23.35,"v":3.17},{"k":"l","t":23.39,"v":2.9},{"k":"l","t":23.44,"v":2.67},{"k":"l","t":23.48,"v":3},{"k":"l","t":23.51,"v":3.17},{"k":"l","t":23.56,"v":2.98},{"k":"l","t":23.61,"v":2.98},{"k":"l","t":23.68,"v":3.1},{"k":"l","t":23.72,"v":2.98},{"k":"l","t":23.78,"v":3.04},{"k":"l","t":23.83,"v":2.86},{"k":"l","t":23.89,"v":3.14},{"k":"l","t":23.94,"v":2.98},{"k":"l","t":24,"v":2.97},{"k":"l","t":24.05,"v":2.99},{"k":"l","t":24.11,"v":3.17},{"k":"l","t":24.16,"v":3.02},{"k":"l","t":24.2,"v":2.93},{"k":"l","t":24.27,"v":2.98},{"k":"l","t":24.37,"v":3.02},{"k":"l","t":24.45,"v":2.99},{"k":"l","t":24.55,"v":3.01},{"k":"l","t":24.65,"v":2.98},{"k":"l","t":24.72,"v":2.9},{"k":"l","t":24.8,"v":3.02},{"k":"l","t":24.9,"v":3},{"k":"l","t":24.96,"v":3.05},{"k":"l","t":25.05,"v":2.99},{"k":"l","t":25.15,"v":3.01},{"k":"l","t":25.25,"v":2.97},{"k":"l","t":25.35,"v":3.02},{"k":"l","t":25.48,"v":3.06},{"k":"l","t":25.58,"v":3},{"k":"l","t":25.7,"v":3.01},{"k":"l","t":25.81,"v":2.94},{"k":"l","t":25.9,"v":3.05},{"k":"l","t":26,"v":2.94},{"k":"l","t":26.1,"v":3.02},{"k":"l","t":26.3,"v":3.03},{"k":"l","t":26.45,"v":2.99},{"k":"l","t":26.6,"v":3.01},{"k":"l","t":26.7,"v":2.97},{"k":"l","t":26.85,"v":3.02},{"k":"l","t":26.95,"v":3.01},{"k":"l","t":27,"v":2.98},
{"k":"m","t":19,"v":2},{"k":"m","t":20.99,"v":2},{"k":"m","t":21.02,"v":2.09},{"k":"m","t":21.04,"v":1.95},{"k":"m","t":21.06,"v":2.03},{"k":"m","t":21.1,"v":1.99},{"k":"m","t":21.15,"v":2.02},{"k":"m","t":21.17,"v":1.96},{"k":"m","t":21.22,"v":2.01},{"k":"m","t":21.26,"v":2.03},{"k":"m","t":21.3,"v":1.98},{"k":"m","t":21.36,"v":2.02},{"k":"m","t":21.42,"v":2.03},{"k":"m","t":21.46,"v":2},{"k":"m","t":21.51,"v":1.96},{"k":"m","t":21.56,"v":2.02},{"k":"m","t":21.61,"v":2.03},{"k":"m","t":21.66,"v":2},{"k":"m","t":21.69,"v":2.03},{"k":"m","t":21.72,"v":1.96},{"k":"m","t":21.77,"v":2.01},{"k":"m","t":21.82,"v":1.99},{"k":"m","t":21.85,"v":1.93},{"k":"m","t":21.87,"v":1.9},{"k":"m","t":21.91,"v":2.13},{"k":"m","t":21.94,"v":2.08},{"k":"m","t":21.97,"v":2.1},{"k":"m","t":22.01,"v":2.01},{"k":"m","t":22.04,"v":2.03},{"k":"m","t":22.07,"v":1.95},{"k":"m","t":22.09,"v":1.9},{"k":"m","t":22.11,"v":2.1},{"k":"m","t":22.12,"v":2.15},{"k":"m","t":22.15,"v":1.92},{"k":"m","t":22.18,"v":2.05},{"k":"m","t":22.21,"v":1.98},{"k":"m","t":22.25,"v":2.09},{"k":"m","t":22.28,"v":1.97},{"k":"m","t":22.33,"v":2.01},{"k":"m","t":22.4,"v":2.06},{"k":"m","t":22.46,"v":2},{"k":"m","t":22.5,"v":1.98},{"k":"m","t":22.54,"v":1.92},{"k":"m","t":22.58,"v":2.02},{"k":"m","t":22.61,"v":2.09},{"k":"m","t":22.65,"v":1.97},{"k":"m","t":22.72,"v":2},{"k":"m","t":22.8,"v":1.99},{"k":"m","t":22.9,"v":2},{"k":"m","t":22.98,"v":2.01},{"k":"m","t":23.04,"v":1.98},{"k":"m","t":23.07,"v":2.09},{"k":"m","t":23.12,"v":1.99},{"k":"m","t":23.2,"v":2.01},{"k":"m","t":23.3,"v":1.98},{"k":"m","t":23.38,"v":2.01},{"k":"m","t":23.45,"v":1.99},{"k":"m","t":23.5,"v":2.03},{"k":"m","t":23.56,"v":2},{"k":"m","t":23.63,"v":1.95},{"k":"m","t":23.68,"v":2.06},{"k":"m","t":23.72,"v":2},{"k":"m","t":23.77,"v":1.96},{"k":"m","t":23.85,"v":2},{"k":"m","t":23.95,"v":2.01},{"k":"m","t":24.1,"v":2},{"k":"m","t":24.22,"v":2.03},{"k":"m","t":24.3,"v":1.96},{"k":"m","t":24.4,"v":2},{"k":"m","t":24.5,"v":2.05},{"k":"m","t":24.6,"v":2},{"k":"m","t":24.8,"v":1.99},{"k":"m","t":25,"v":2},{"k":"m","t":25.15,"v":2.03},{"k":"m","t":25.3,"v":1.99},{"k":"m","t":25.5,"v":2},{"k":"m","t":25.7,"v":2.01},{"k":"m","t":25.9,"v":1.99},{"k":"m","t":26.1,"v":2},{"k":"m","t":26.4,"v":2.01},{"k":"m","t":26.7,"v":2},{"k":"m","t":27,"v":2},
{"k":"n","t":19,"v":1.5},{"k":"n","t":21.03,"v":1.5},{"k":"n","t":21.08,"v":1.54},{"k":"n","t":21.11,"v":1.48},{"k":"n","t":21.16,"v":1.52},{"k":"n","t":21.2,"v":1.47},{"k":"n","t":21.25,"v":1.51},{"k":"n","t":21.29,"v":1.45},{"k":"n","t":21.34,"v":1.52},{"k":"n","t":21.39,"v":1.54},{"k":"n","t":21.44,"v":1.49},{"k":"n","t":21.5,"v":1.51},{"k":"n","t":21.57,"v":1.48},{"k":"n","t":21.64,"v":1.45},{"k":"n","t":21.69,"v":1.5},{"k":"n","t":21.74,"v":1.56},{"k":"n","t":21.79,"v":1.49},{"k":"n","t":21.85,"v":1.48},{"k":"n","t":21.88,"v":1.5},{"k":"n","t":21.91,"v":1.67},{"k":"n","t":21.94,"v":1.75},{"k":"n","t":21.97,"v":1.47},{"k":"n","t":22,"v":1.16},{"k":"n","t":22.03,"v":1.42},{"k":"n","t":22.06,"v":1.62},{"k":"n","t":22.11,"v":1.55},{"k":"n","t":22.14,"v":1.46},{"k":"n","t":22.19,"v":1.64},{"k":"n","t":22.23,"v":1.78},{"k":"n","t":22.27,"v":1.57},{"k":"n","t":22.31,"v":1.43},{"k":"n","t":22.34,"v":1.5},{"k":"n","t":22.37,"v":1.41},{"k":"n","t":22.42,"v":1.62},{"k":"n","t":22.47,"v":1.3},{"k":"n","t":22.51,"v":1.62},{"k":"n","t":22.56,"v":1.64},{"k":"n","t":22.61,"v":1.5},{"k":"n","t":22.65,"v":1.43},{"k":"n","t":22.71,"v":1.57},{"k":"n","t":22.75,"v":1.5},{"k":"n","t":22.8,"v":1.43},{"k":"n","t":22.87,"v":1.68},{"k":"n","t":22.93,"v":1.57},{"k":"n","t":22.98,"v":1.5},{"k":"n","t":23.04,"v":1.54},{"k":"n","t":23.1,"v":1.52},{"k":"n","t":23.16,"v":1.47},{"k":"n","t":23.2,"v":1.46},{"k":"n","t":23.27,"v":1.56},{"k":"n","t":23.31,"v":1.68},{"k":"n","t":23.35,"v":1.6},{"k":"n","t":23.41,"v":1.34},{"k":"n","t":23.45,"v":1.47},{"k":"n","t":23.5,"v":1.55},{"k":"n","t":23.56,"v":1.5},{"k":"n","t":23.62,"v":1.53},{"k":"n","t":23.7,"v":1.52},{"k":"n","t":23.77,"v":1.5},{"k":"n","t":23.82,"v":1.46},{"k":"n","t":23.87,"v":1.52},{"k":"n","t":23.91,"v":1.39},{"k":"n","t":23.96,"v":1.54},{"k":"n","t":24.03,"v":1.6},{"k":"n","t":24.08,"v":1.5},{"k":"n","t":24.15,"v":1.52},{"k":"n","t":24.2,"v":1.47},{"k":"n","t":24.3,"v":1.53},{"k":"n","t":24.38,"v":1.49},{"k":"n","t":24.45,"v":1.5},{"k":"n","t":24.56,"v":1.54},{"k":"n","t":24.62,"v":1.5},{"k":"n","t":24.7,"v":1.52},{"k":"n","t":24.78,"v":1.47},{"k":"n","t":24.86,"v":1.5},{"k":"n","t":24.96,"v":1.54},{"k":"n","t":25.05,"v":1.5},{"k":"n","t":25.17,"v":1.47},{"k":"n","t":25.3,"v":1.49},{"k":"n","t":25.43,"v":1.54},{"k":"n","t":25.55,"v":1.49},{"k":"n","t":25.7,"v":1.51},{"k":"n","t":25.85,"v":1.5},{"k":"n","t":26,"v":1.52},{"k":"n","t":26.2,"v":1.5},{"k":"n","t":26.35,"v":1.46},{"k":"n","t":26.5,"v":1.51},{"k":"n","t":26.7,"v":1.52},{"k":"n","t":26.85,"v":1.49},{"k":"n","t":27,"v":1.5},
{"k":"o","t":19,"v":1},{"k":"o","t":21.03,"v":1},{"k":"o","t":21.09,"v":1.01},{"k":"o","t":21.13,"v":1.04},{"k":"o","t":21.15,"v":0.96},{"k":"o","t":21.2,"v":1.02},{"k":"o","t":21.28,"v":0.99},{"k":"o","t":21.35,"v":1.01},{"k":"o","t":21.42,"v":0.99},{"k":"o","t":21.5,"v":1},{"k":"o","t":21.58,"v":0.98},{"k":"o","t":21.66,"v":1.02},{"k":"o","t":21.73,"v":1.04},{"k":"o","t":21.8,"v":0.99},{"k":"o","t":21.88,"v":1.01},{"k":"o","t":21.94,"v":0.98},{"k":"o","t":22.02,"v":0.97},{"k":"o","t":22.07,"v":1.04},{"k":"o","t":22.12,"v":1.18},{"k":"o","t":22.15,"v":1},{"k":"o","t":22.19,"v":1.04},{"k":"o","t":22.23,"v":1.19},{"k":"o","t":22.26,"v":1.1},{"k":"o","t":22.29,"v":0.9},{"k":"o","t":22.33,"v":1.04},{"k":"o","t":22.37,"v":0.89},{"k":"o","t":22.42,"v":0.98},{"k":"o","t":22.44,"v":1.13},{"k":"o","t":22.46,"v":1.2},{"k":"o","t":22.49,"v":1.14},{"k":"o","t":22.51,"v":1.29},{"k":"o","t":22.53,"v":1.03},{"k":"o","t":22.56,"v":1.14},{"k":"o","t":22.6,"v":0.93},{"k":"o","t":22.63,"v":0.77},{"k":"o","t":22.67,"v":0.93},{"k":"o","t":22.71,"v":1.07},{"k":"o","t":22.75,"v":1.1},{"k":"o","t":22.79,"v":0.96},{"k":"o","t":22.83,"v":0.89},{"k":"o","t":22.87,"v":1.13},{"k":"o","t":22.92,"v":1.2},{"k":"o","t":22.96,"v":1.04},{"k":"o","t":23.02,"v":0.9},{"k":"o","t":23.08,"v":0.98},{"k":"o","t":23.13,"v":1.15},{"k":"o","t":23.18,"v":1},{"k":"o","t":23.24,"v":1.01},{"k":"o","t":23.3,"v":0.93},{"k":"o","t":23.35,"v":0.86},{"k":"o","t":23.37,"v":0.8},{"k":"o","t":23.41,"v":1},{"k":"o","t":23.44,"v":1.15},{"k":"o","t":23.49,"v":1},{"k":"o","t":23.55,"v":0.97},{"k":"o","t":23.62,"v":1.01},{"k":"o","t":23.68,"v":1.04},{"k":"o","t":23.73,"v":0.95},{"k":"o","t":23.79,"v":0.9},{"k":"o","t":23.85,"v":1.1},{"k":"o","t":23.91,"v":1.12},{"k":"o","t":23.97,"v":0.93},{"k":"o","t":24.03,"v":0.95},{"k":"o","t":24.1,"v":1.02},{"k":"o","t":24.18,"v":1.06},{"k":"o","t":24.25,"v":0.98},{"k":"o","t":24.3,"v":0.9},{"k":"o","t":24.37,"v":1.06},{"k":"o","t":24.42,"v":0.99},{"k":"o","t":24.52,"v":1},{"k":"o","t":24.62,"v":0.99},{"k":"o","t":24.7,"v":1.05},{"k":"o","t":24.75,"v":0.97},{"k":"o","t":24.86,"v":1.01},{"k":"o","t":24.96,"v":1.03},{"k":"o","t":25.05,"v":0.96},{"k":"o","t":25.12,"v":1.02},{"k":"o","t":25.2,"v":1.01},{"k":"o","t":25.35,"v":0.98},{"k":"o","t":25.5,"v":0.98},{"k":"o","t":25.65,"v":1},{"k":"o","t":25.81,"v":0.96},{"k":"o","t":25.9,"v":1.03},{"k":"o","t":26,"v":1},{"k":"o","t":26.15,"v":0.98},{"k":"o","t":26.3,"v":1.02},{"k":"o","t":26.45,"v":0.97},{"k":"o","t":26.6,"v":1},{"k":"o","t":26.75,"v":1.03},{"k":"o","t":26.9,"v":0.99},{"k":"o","t":27,"v":1}
]},
"resolve":{"axis":{"x":"independent","y":"independent"}},
"layer":[
{"data":{"name":"w"},
 "mark":{"type":"line","color":"black","strokeWidth":2.6,"interpolate":"monotone","strokeJoin":"round","clip":true},
 "encoding":{
  "x":{"field":"t","type":"quantitative","scale":{"domain":[19,27],"nice":false,"zero":false},
   "axis":{"orient":"bottom","values":[19,20,21,22,23,24,25,26,27],"ticks":false,"domain":false,"grid":false,"labelColor":"black","labelFont":"Liberation Sans","labelFontSize":22,"labelPadding":14,"labelFlush":false,"title":"Tempo (s)","titleColor":"black","titleFont":"Liberation Sans","titleFontWeight":"normal","titleFontSize":24,"titlePadding":14}},
  "y":{"field":"v","type":"quantitative","scale":{"domain":[0,11],"nice":false,"zero":false},
   "axis":{"orient":"left","values":[0,1,2,3,4,5,6,7,8,9,10,11],"ticks":false,"domain":false,"grid":false,"labelColor":"black","labelFont":"Liberation Sans","labelFontSize":22,"labelPadding":16,"labelFlush":false,"title":"Velocita' del suolo (mm/s)","titleColor":"black","titleFont":"Liberation Sans","titleFontWeight":"normal","titleFontSize":26,"titlePadding":4}},
  "detail":{"field":"k","type":"nominal"}}},
{"data":{"name":"major"},
 "mark":{"type":"rule","color":"black","strokeWidth":2.6},
 "encoding":{"x":{"field":"t","type":"quantitative","axis":null},"y":{"datum":0,"type":"quantitative","axis":null},"y2":{"datum":0.1675}}},
{"data":{"name":"major"},
 "mark":{"type":"rule","color":"black","strokeWidth":2.6},
 "encoding":{"x":{"field":"t","type":"quantitative","axis":null},"y":{"datum":11,"type":"quantitative","axis":null},"y2":{"datum":10.8325}}},
{"data":{"name":"minor"},
 "mark":{"type":"rule","color":"black","strokeWidth":2.6},
 "encoding":{"x":{"field":"t","type":"quantitative","axis":null},"y":{"datum":0,"type":"quantitative","axis":null},"y2":{"datum":0.0838}}},
{"data":{"name":"minor"},
 "mark":{"type":"rule","color":"black","strokeWidth":2.6},
 "encoding":{"x":{"field":"t","type":"quantitative","axis":null},"y":{"datum":11,"type":"quantitative","axis":null},"y2":{"datum":10.9162}}},
{"data":{"name":"labs"},
 "mark":{"type":"text","align":"left","baseline":"alphabetic","fontSize":23.5,"font":"Liberation Sans","color":"black","dy":-6},
 "encoding":{
  "x":{"datum":19.204,"type":"quantitative","axis":null},
  "y":{"field":"b","type":"quantitative","axis":null},
  "text":{"field":"st"}}},
{"data":{"name":"labs"},
 "mark":{"type":"text","align":"left","baseline":"alphabetic","fontSize":23.5,"font":"Liberation Sans","color":"black","dy":-6},
 "encoding":{
  "x":{"datum":19.727,"type":"quantitative","axis":null},
  "y":{"field":"b","type":"quantitative","axis":null},
  "text":{"field":"c"}}},
{"data":{"name":"ttl"},
 "mark":{"type":"text","align":"center","baseline":"middle","fontSize":32,"font":"Liberation Sans","color":"black"},
 "encoding":{
  "x":{"datum":23.306,"type":"quantitative","axis":null},
  "y":{"datum":10.52,"type":"quantitative","axis":null},
  "text":{"field":"txt"}}}
]}
